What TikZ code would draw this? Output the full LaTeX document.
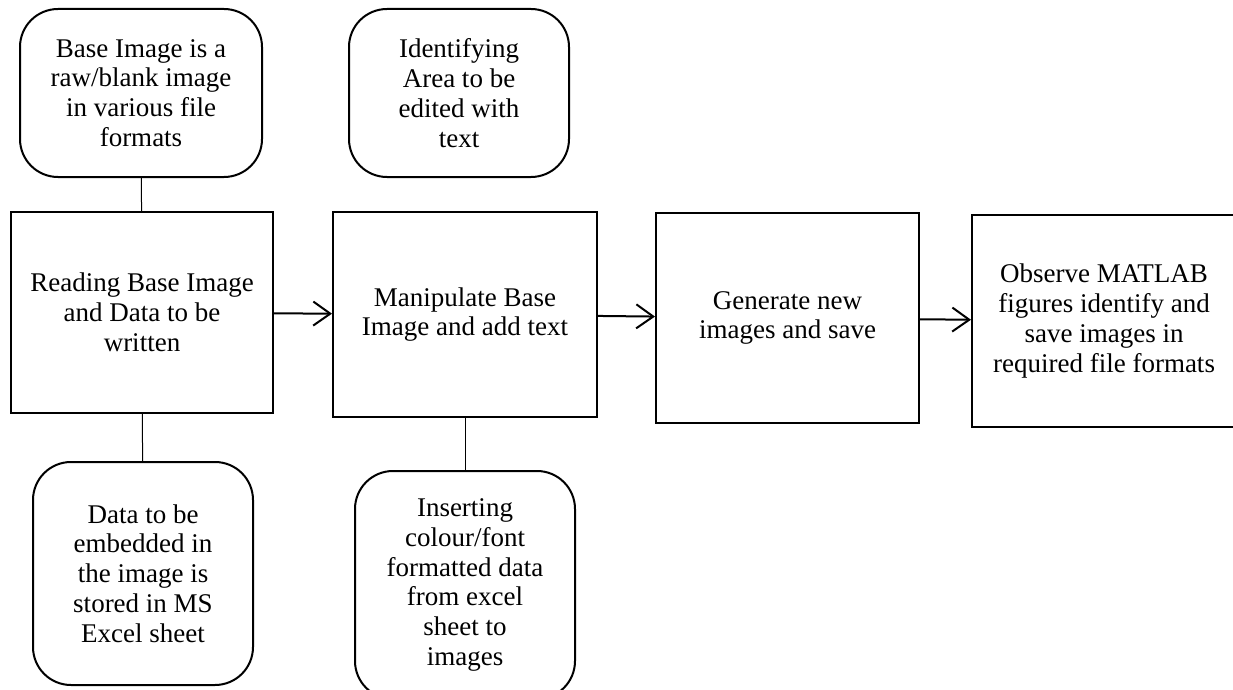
\documentclass[tikz,border=0pt]{standalone}
\usepackage{fontspec}
\setmainfont{Liberation Serif}
\usetikzlibrary{arrows.meta}

\begin{document}
\begin{tikzpicture}[x=1pt, y=-1pt]
        \tikzstyle{block} = [draw, line width=2pt, align=center, inner sep=0pt, font=\fontsize{27}{29.8}\selectfont]
        \tikzstyle{rblock} = [block, rounded corners=38pt]
        \tikzstyle{pointer} = [-{Straight Barb[length=17pt, width=24pt]}, line width=2pt]
        \tikzstyle{link} = [line width=1pt]
        \clip (0,0) rectangle (1233,690);
        \node[rblock, minimum width=242pt, minimum height=168pt] (base) at (141,93) {Base Image is a\\raw/blank image\\in various file\\formats};
        \node[rblock, minimum width=220pt, minimum height=168pt] (area) at (459,93) {Identifying\\Area to be\\edited with\\text};
        \node[block, minimum width=262pt, minimum height=201pt] (read) at (142,312.5) {Reading Base Image\\and Data to be\\written};
        \node[block, minimum width=264pt, minimum height=205pt] (manip) at (465,314.5) {Manipulate Base\\Image and add text};
        \node[block, minimum width=263pt, minimum height=210pt] (gen) at (787.5,318) {Generate new\\images and save};
        \node[block, minimum width=264pt, minimum height=212pt] (obs) at (1104,321) {Observe MATLAB\\figures identify and\\save images in\\required file formats};
        \node[rblock, minimum width=220pt, minimum height=223pt] (data) at (143,573.5) {Data to be\\embedded in\\the image is\\stored in MS\\Excel sheet};
        \node[rblock, minimum width=220pt, minimum height=228pt] (insert) at (465,585) {Inserting\\colour/font\\formatted data\\from excel\\sheet to\\images};
        \path[pointer]
        (read) edge (manip)
        (manip) edge (gen)
        (gen) edge (obs);
        \path[link]
        (base) edge (read)
        (read) edge (data)
        (manip) edge (insert);
    \end{tikzpicture}
\end{document}
